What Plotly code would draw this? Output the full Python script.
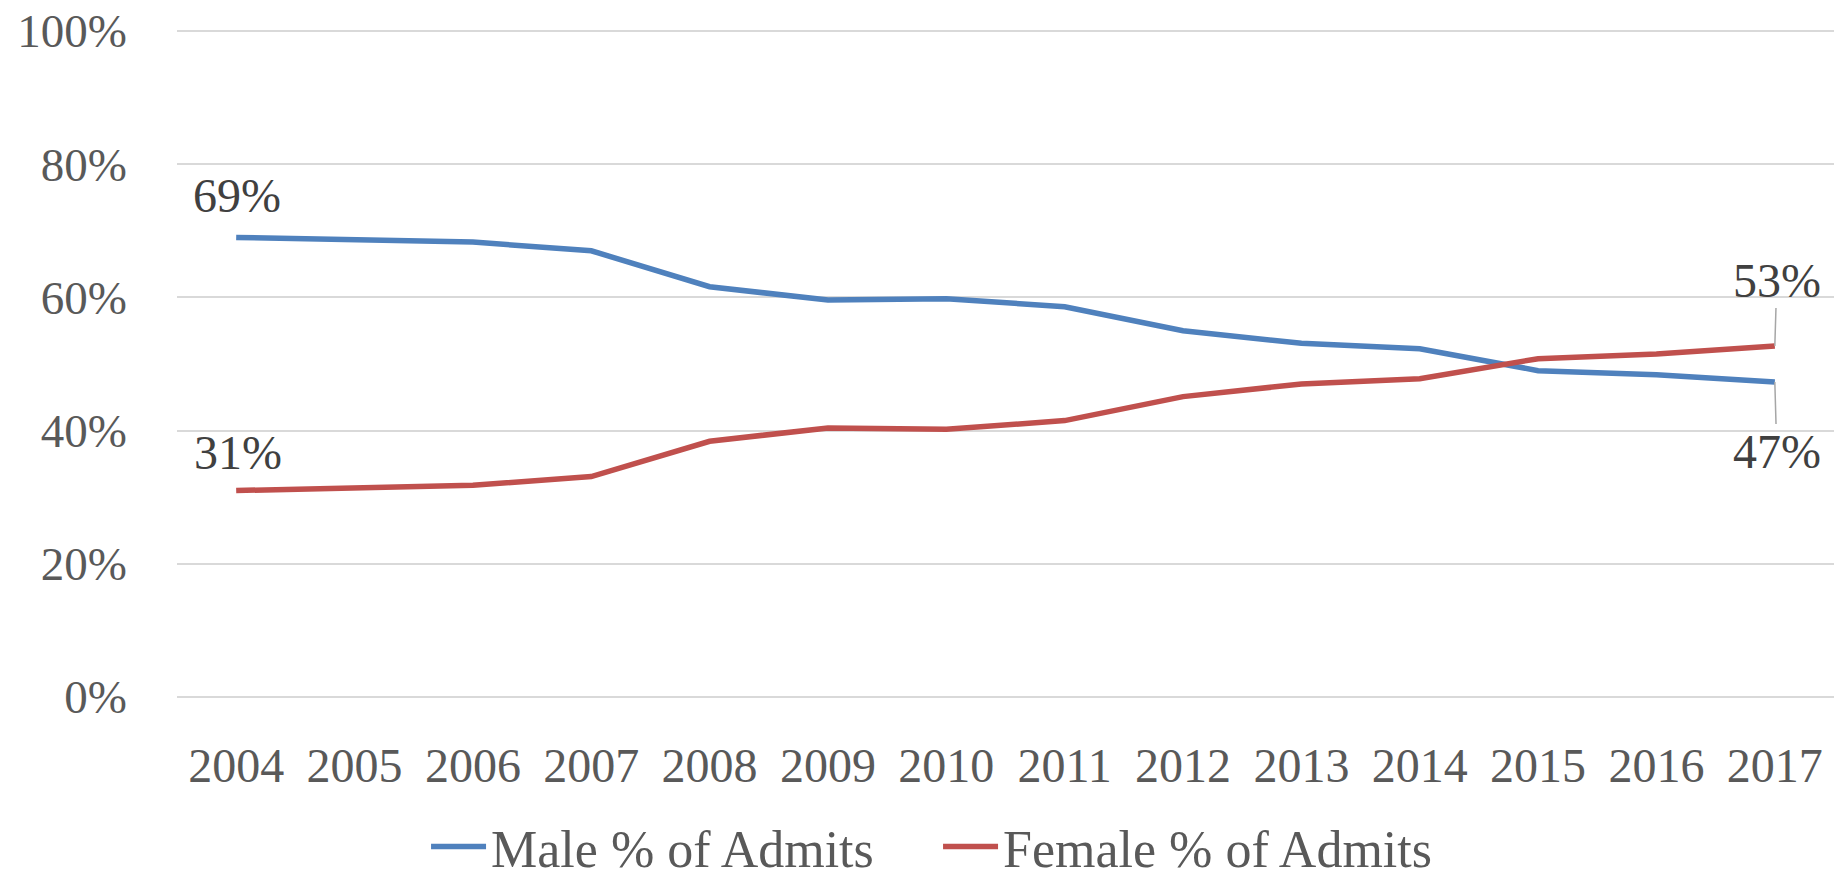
import plotly.graph_objects as go

years = ["2004", "2005", "2006", "2007", "2008", "2009", "2010",
         "2011", "2012", "2013", "2014", "2015", "2016", "2017"]
male_pct = [69.0, 68.7, 68.3, 67.0, 61.6, 59.6, 59.8,
            58.6, 55.0, 53.1, 52.3, 49.0, 48.4, 47.3]
female_pct = [31.0, 31.4, 31.8, 33.1, 38.4, 40.4, 40.2,
              41.5, 45.1, 47.0, 47.8, 50.8, 51.5, 52.7]
y_ticks = [0, 20, 40, 60, 80, 100]
y_tick_labels = ["0%", "20%", "40%", "60%", "80%", "100%"]

FONT = "Liberation Serif"
BLUE = "#4F81BD"
RED = "#C0504D"

fig = go.Figure()
fig.add_trace(go.Scatter(x=years, y=male_pct, mode="lines", name="Male % of Admits",
                         line=dict(color=BLUE, width=5.5)))
fig.add_trace(go.Scatter(x=years, y=female_pct, mode="lines", name="Female % of Admits",
                         line=dict(color=RED, width=5.5)))

lab_font = dict(family=FONT, size=48, color="#404040")
first, last = 0, len(years) - 1
# start labels (no leader lines)
fig.add_annotation(x=first, y=male_pct[first], text=f"{male_pct[first]:.0f}%",
                   showarrow=False, yshift=42, xshift=1, font=lab_font)
fig.add_annotation(x=first, y=female_pct[first], text=f"{female_pct[first]:.0f}%",
                   showarrow=False, yshift=38, xshift=2, font=lab_font)
# end labels with leader lines
fig.add_annotation(x=last, y=female_pct[last], text=f"{female_pct[last]:.0f}%",
                   showarrow=True, arrowhead=0, arrowwidth=1.5, arrowcolor="#A6A6A6",
                   ax=2, ay=-66, font=lab_font)
fig.add_annotation(x=last, y=male_pct[last], text=f"{male_pct[last]:.0f}%",
                   showarrow=True, arrowhead=0, arrowwidth=1.5, arrowcolor="#A6A6A6",
                   ax=2, ay=70, font=lab_font)

W, H = 1835, 864
fig.update_layout(
    width=W, height=H,
    margin=dict(l=169, r=9, t=21, b=173, autoexpand=False),
    paper_bgcolor="white", plot_bgcolor="white",
    font=dict(family=FONT, size=47, color="#595959"),
    showlegend=True,
    legend=dict(orientation="h", x=0.1503, xanchor="left",
                yref="container", y=0.0292, yanchor="middle",
                font=dict(family=FONT, size=52, color="#595959"),
                entrywidth=442, itemwidth=55, bgcolor="rgba(0,0,0,0)"),
    hovermode=False,
)
fig.update_xaxes(type="category", range=[-0.5, 13.5], showgrid=False, showline=False,
                 zeroline=False, ticks="", ticklabelstandoff=34, automargin=False,
                 tickfont=dict(family=FONT, size=48, color="#595959"))
fig.update_yaxes(range=[-0.3, 100.3], tickvals=y_ticks, ticktext=y_tick_labels,
                 showgrid=True, gridcolor="#D9D9D9", gridwidth=1.5, zeroline=False,
                 showline=False, ticks="", ticklabelstandoff=49, automargin=False,
                 ticklabeloverflow="allow",
                 tickfont=dict(family=FONT, size=47, color="#595959"))

fig.write_html("out.html")
